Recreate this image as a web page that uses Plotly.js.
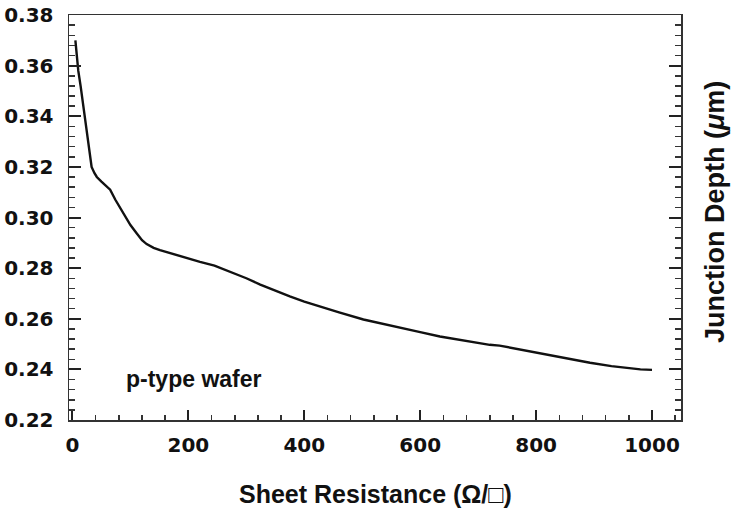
<!DOCTYPE html>
<html>
<head>
<meta charset="utf-8">
<script src="https://cdn.plot.ly/plotly-3.0.1.min.js"></script>
<style>html,body{margin:0;padding:0;background:#fff;}#chart{width:731px;height:512px;}</style>
</head>
<body>
<div id="chart"></div>
<script>
const sheetResistance = [5, 7, 10, 14, 18, 22, 26, 30, 33, 38, 42, 50, 58, 65, 74, 88, 100, 111, 120, 128, 140, 151, 170, 191, 203, 220, 245, 272, 300, 324, 350, 375, 400, 427, 460, 502, 530, 565, 600, 634, 680, 720, 737, 780, 818, 860, 893, 930, 956, 980, 1000];
const junctionDepth = [0.370, 0.364, 0.358, 0.352, 0.345, 0.338, 0.331, 0.325, 0.320, 0.3175, 0.316, 0.3142, 0.3125, 0.311, 0.307, 0.3016, 0.297, 0.2937, 0.291, 0.2895, 0.288, 0.2871, 0.2858, 0.2845, 0.2835, 0.2825, 0.2810, 0.2786, 0.2760, 0.2735, 0.2710, 0.2688, 0.2668, 0.2648, 0.2625, 0.2597, 0.2582, 0.2563, 0.2547, 0.2530, 0.2512, 0.2497, 0.2494, 0.2475, 0.2458, 0.2440, 0.2426, 0.2413, 0.2405, 0.2400, 0.2398];
const xTicks = [0, 200, 400, 600, 800, 1000];
const yTicks = [0.22, 0.24, 0.26, 0.28, 0.30, 0.32, 0.34, 0.36, 0.38];
const xTitle = "Sheet Resistance (Ω/□)";
const yTitle = "Junction Depth (<i>μ</i>m)";
const label = "p-type wafer";

const tickFont = {family: "DejaVu Sans, sans-serif", size: 20, color: "#111", weight: "bold"};
const titleFamily = "Liberation Sans, Arial, sans-serif";

const trace = {
  x: sheetResistance, y: junctionDepth, type: "scatter", mode: "lines",
  line: {color: "#111", width: 2.4}, hoverinfo: "skip"
};

const layout = {
  width: 731, height: 512,
  margin: {l: 69, r: 50, t: 15, b: 92},
  paper_bgcolor: "#fff", plot_bgcolor: "#fff",
  showlegend: false,
  xaxis: {
    range: [-6, 1050], tickvals: xTicks, ticktext: xTicks.map(String),
    ticks: "inside", ticklen: 10, tickwidth: 2, tickcolor: "#222",
    minor: {dtick: 40, tick0: 0, ticks: "inside", ticklen: 5, tickwidth: 1.5, tickcolor: "#333", showgrid: false},
    showline: true, linecolor: "#333", linewidth: 1.5, mirror: true,
    showgrid: false, zeroline: false, tickfont: tickFont, ticklabelstandoff: 6
  },
  yaxis: {
    range: [0.22, 0.38], tickvals: yTicks, ticktext: yTicks.map(v => v.toFixed(2)),
    ticks: "inside", ticklen: 12, tickwidth: 2, tickcolor: "#222",
    minor: {dtick: 0.004, tick0: 0.22, ticks: "inside", ticklen: 6, tickwidth: 1.5, tickcolor: "#333", showgrid: false},
    showline: true, linecolor: "#333", linewidth: 1.5, mirror: "ticks",
    showgrid: false, zeroline: false, tickfont: tickFont, ticklabelstandoff: 10
  },
  annotations: [
    {text: xTitle, xref: "paper", yref: "paper", x: 0.5, y: -0.183, xanchor: "center", yanchor: "middle",
     showarrow: false, font: {family: titleFamily, size: 25, color: "#111", weight: "bold"}},
    {text: yTitle, xref: "paper", yref: "paper", x: 1.056, y: 0.514, xanchor: "center", yanchor: "middle",
     textangle: -90, showarrow: false, font: {family: titleFamily, size: 27, color: "#111", weight: "bold"}},
    {text: label, xref: "x", yref: "y", x: 210, y: 0.2362, xanchor: "center", yanchor: "middle",
     showarrow: false, font: {family: titleFamily, size: 23, color: "#111", weight: "bold"}}
  ]
};

Plotly.newPlot("chart", [trace], layout, {staticPlot: true, displayModeBar: false});
</script>
</body>
</html>
